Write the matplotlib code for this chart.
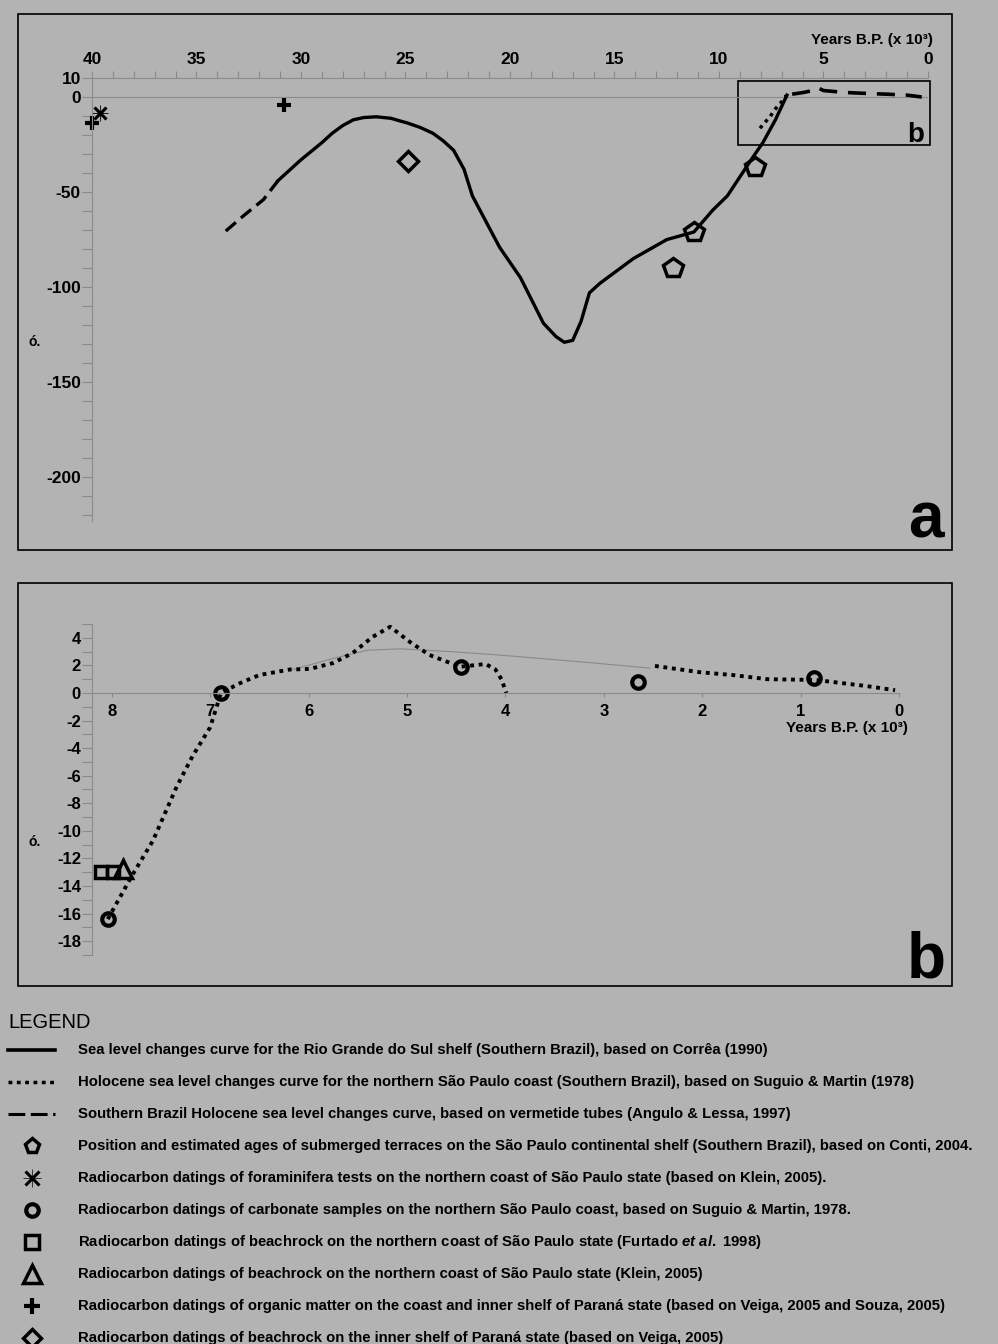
import matplotlib
matplotlib.use("Agg")
import matplotlib.pyplot as plt
from matplotlib.patches import Rectangle
from matplotlib.ticker import MultipleLocator, FixedLocator
import numpy as np

plt.rcParams['font.family'] = ['Liberation Sans', 'DejaVu Sans']
plt.rcParams['font.weight'] = 'bold'
plt.rcParams['axes.unicode_minus'] = False
plt.rcParams['mathtext.fontset'] = 'custom'
plt.rcParams['mathtext.rm'] = 'Liberation Sans:bold'
plt.rcParams['mathtext.it'] = 'Liberation Sans:italic:bold'

BG = '#b3b3b3'
AXC = '#8a8a8a'
W, H = 998, 1344

# ---- panel a : age (ka BP) and level (m) ----
correa_early_x = [33.6, 32.7, 31.8, 31.1]
correa_early_y = [-70.5, -62, -54, -44]
correa_x = [31.1, 30.0, 29.0, 28.5, 28.0, 27.5, 27.0, 26.4, 25.7, 24.9, 24.3, 23.7, 23.2, 22.7,
            22.2, 21.8, 20.5, 19.5, 18.4, 17.8, 17.4, 17.0, 16.6, 16.2, 15.7, 14.1, 12.5, 11.2,
            10.3, 9.6, 8.4, 7.9, 7.3, 6.75]
correa_y = [-44, -33, -24, -19, -15, -12, -10.8, -10.4, -11.2, -13.7, -16, -19, -23, -28,
            -38, -52, -79, -95, -119, -126, -129, -128, -118, -103, -98, -85, -75, -71,
            -59.5, -52, -32, -24, -12, 1]
angulo_x = [6.5, 6.0, 5.6, 5.3, 5.0, 4.0, 3.0, 2.0, 1.0, 0.3]
angulo_y = [1.5, 2.3, 3.2, 5.0, 3.4, 2.4, 1.9, 1.5, 1.0, 0.0]
conti_x = [8.3, 11.2, 12.2]
conti_y = [-37, -71, -90]
klein_foram_x = [39.6]
klein_foram_y = [-8.4]
veiga_om_x = [40.0, 30.8]
veiga_om_y = [-13.5, -4.2]
veiga_br_x = [24.9]
veiga_br_y = [-33.7]

# ---- panel b : Holocene detail ----
suguio1_x = [8.04, 7.79, 7.58, 7.34, 7.18, 7.0, 6.92, 6.89, 6.7, 6.5, 6.19, 5.99, 5.75,
             5.55, 5.35, 5.17, 4.97, 4.77, 4.46, 4.2, 4.1, 4.04, 3.99]
suguio1_y = [-16.4, -13.2, -10.7, -6.8, -4.6, -2.5, -0.7, 0.0, 0.7, 1.3, 1.7, 1.74, 2.17,
             2.9, 4.06, 4.8, 3.7, 2.75, 1.9, 2.1, 1.7, 1.0, 0.0]
suguio2_x = [2.48, 2.02, 1.69, 1.34, 0.84, 0.33, 0.04]
suguio2_y = [1.96, 1.5, 1.3, 1.0, 0.94, 0.5, 0.2]
thin_x = [6.16, 5.75, 5.4, 5.07, 4.56, 4.06, 3.14, 2.53]
thin_y = [1.7, 2.5, 3.1, 3.2, 3.0, 2.75, 2.2, 1.8]
carb_x = [8.04, 6.89, 4.45, 2.65, 0.86]
carb_y = [-16.4, 0.0, 1.9, 0.8, 1.1]
furtado_x = [8.11, 7.99]
furtado_y = [-13.0, -13.0]
klein_br_x = [7.88]
klein_br_y = [-12.8]

legend_labels = [
    "Sea level changes curve for the Rio Grande do Sul shelf (Southern Brazil), based on Corrêa (1990)",
    "Holocene sea level changes curve for the northern São Paulo coast (Southern Brazil), based on Suguio & Martin (1978)",
    "Southern Brazil Holocene sea level changes curve, based on vermetide tubes (Angulo & Lessa, 1997)",
    "Position and estimated ages of submerged terraces on the São Paulo continental shelf (Southern Brazil), based on Conti, 2004.",
    "Radiocarbon datings of foraminifera tests on the northern coast of São Paulo state (based on Klein, 2005).",
    "Radiocarbon datings of carbonate samples on the northern São Paulo coast, based on Suguio & Martin, 1978.",
    r"Radiocarbon datings of beachrock on the northern coast of São Paulo state (Furtado $et\ al.$ 1998)",
    "Radiocarbon datings of beachrock on the northern coast of São Paulo state (Klein, 2005)",
    "Radiocarbon datings of organic matter on the coast and inner shelf of Paraná state (based on Veiga, 2005 and Souza, 2005)",
    "Radiocarbon datings of beachrock on the inner shelf of Paraná state (based on Veiga, 2005)",
]


def frac(l, t, r, b):
    return [l / W, 1 - b / H, (r - l) / W, (b - t) / H]


fig = plt.figure(figsize=(9.98, 13.44), dpi=100, facecolor=BG)
bg = fig.add_axes([0, 0, 1, 1], zorder=0)
bg.set_xlim(0, W)
bg.set_ylim(H, 0)
bg.axis('off')
bg.add_patch(Rectangle((18, 14), 934, 536, fill=False, ec='black', lw=1.2))
bg.add_patch(Rectangle((18, 583), 934, 403, fill=False, ec='black', lw=1.2))

# markers style
pent = dict(marker='p', ms=15, mfc='none', mec='black', mew=2.5, ls='none', clip_on=False)
circ = dict(marker='o', ms=9, mfc='none', mec='black', mew=3, ls='none', clip_on=False)

# ================= panel a =================
ax = fig.add_axes(frac(92, 78, 928, 521), zorder=1)
ax.set_facecolor('none')
ax.set_xlim(40, 0)
ax.set_ylim(-223, 10)
for s in ['bottom', 'right']:
    ax.spines[s].set_visible(False)
for s in ['top', 'left']:
    ax.spines[s].set_color(AXC)
    ax.spines[s].set_linewidth(0.8)
ax.xaxis.tick_top()
ax.xaxis.set_major_locator(MultipleLocator(5))
ax.xaxis.set_minor_locator(MultipleLocator(1))
ax.yaxis.set_major_locator(FixedLocator([10, 0, -50, -100, -150, -200]))
ax.yaxis.set_minor_locator(MultipleLocator(10))
ax.tick_params(axis='x', which='both', direction='out', color=AXC, width=0.8, length=5,
               labelsize=12.5, pad=3)
ax.tick_params(axis='y', which='both', direction='out', color=AXC, width=0.8, length=7,
               labelsize=12.5, pad=1)
ax.axhline(0, color=AXC, lw=0.8)

ax.plot(correa_early_x, correa_early_y, color='black', lw=2.4, ls=(0, (4, 2)))
ax.plot(correa_x, correa_y, color='black', lw=2.4, solid_joinstyle='round')
ax.plot(suguio1_x[:9], suguio1_y[:9], color='black', lw=2.5, ls=(0, (1, 1.3)))
ax.plot(angulo_x, angulo_y, color='black', lw=2.6, ls=(0, (5, 3)))
ax.plot(conti_x, conti_y, **pent)
ax.plot(klein_foram_x, klein_foram_y, marker='x', ms=9, mew=2.2, color='black', ls='none', clip_on=False)
ax.plot(klein_foram_x, klein_foram_y, marker='+', ms=12, mew=0.6, color='black', ls='none', clip_on=False)
ax.plot(veiga_om_x, veiga_om_y, marker='+', ms=10, mew=3, color='black', ls='none', clip_on=False)
ax.plot(veiga_br_x, veiga_br_y, marker='D', ms=10, mfc='none', mec='black', mew=2.5, ls='none')
ax.add_patch(Rectangle((-0.1, -25.3), 9.2, 33.7, fill=False, ec='black', lw=1.2, clip_on=False))
ax.text(0.2, -23.5, 'b', ha='right', va='baseline', fontsize=20)

fig.text(933 / W, 1 - 40 / H, 'Years B.P. (x 10³)', ha='right', va='center', fontsize=11)
bg.text(944, 538, 'a', ha='right', va='baseline', fontsize=46)
bg.text(35, 342, 'ó.', ha='center', va='center', fontsize=10)

# ================= panel b =================
bx = fig.add_axes(frac(92, 624, 899, 955), zorder=1)
bx.set_facecolor('none')
bx.set_xlim(8.2, 0)
bx.set_ylim(-19, 5)
for s in ['top', 'right']:
    bx.spines[s].set_visible(False)
for s in ['bottom', 'left']:
    bx.spines[s].set_color(AXC)
    bx.spines[s].set_linewidth(0.8)
bx.spines['bottom'].set_position(('data', 0))
bx.xaxis.set_major_locator(FixedLocator(range(0, 9)))
bx.yaxis.set_major_locator(FixedLocator(range(-18, 5, 2)))
bx.yaxis.set_minor_locator(MultipleLocator(1))
bx.tick_params(axis='x', which='both', direction='out', color=AXC, width=0.8, length=3,
               labelsize=12, pad=5)
bx.tick_params(axis='y', which='both', direction='out', color=AXC, width=0.8, length=7,
               labelsize=12, pad=1)

bx.plot(thin_x, thin_y, color=AXC, lw=0.8)
bx.plot(suguio1_x, suguio1_y, color='black', lw=2.8, ls=(0, (1, 1.2)), clip_on=False)
bx.plot(suguio2_x, suguio2_y, color='black', lw=2.8, ls=(0, (1, 1.2)), clip_on=False)
bx.plot(carb_x, carb_y, **circ)
bx.plot(furtado_x, furtado_y, marker='s', ms=9, mfc='none', mec='black', mew=2.5, ls='none', clip_on=False)
bx.plot(klein_br_x, klein_br_y, marker='^', ms=13, mfc='none', mec='black', mew=2.5, ls='none', clip_on=False)

bg.text(908, 728, 'Years B.P. (x 10³)', ha='right', va='center', fontsize=11)
bg.text(946, 977, 'b', ha='right', va='baseline', fontsize=46)
bg.text(35, 842, 'ó.', ha='center', va='center', fontsize=10)

# ================= legend =================
bg.text(8, 1022, 'LEGEND', ha='left', va='center', fontsize=14.5, fontweight='normal')
rows = np.linspace(1050, 1338, len(legend_labels))
sym_x = 32
bg.plot([8, 55], [rows[0]] * 2, color='black', lw=2.6)
bg.plot([8, 55], [rows[1]] * 2, color='black', lw=2.5, ls=(0, (1.1, 1.3)))
bg.plot([8, 55], [rows[2]] * 2, color='black', lw=2.2, ls=(0, (5.5, 1.8)))
bg.plot([sym_x], [rows[3]], marker='p', ms=11, mfc='none', mec='black', mew=2.5)
bg.plot([sym_x], [rows[4]], marker='x', ms=10, mew=2.2, color='black')
bg.plot([sym_x], [rows[4]], marker='+', ms=13, mew=0.5, color='black')
bg.plot([sym_x], [rows[5]], marker='o', ms=9, mfc='none', mec='black', mew=3)
bg.plot([sym_x], [rows[6]], marker='s', ms=10, mfc='none', mec='black', mew=2.5)
bg.plot([sym_x], [rows[7]], marker='^', ms=13, mfc='none', mec='black', mew=2.5)
bg.plot([sym_x], [rows[8]], marker='+', ms=12, mew=3, color='black')
bg.plot([sym_x], [rows[9]], marker='D', ms=9, mfc='none', mec='black', mew=2.5)
for y, lab in zip(rows, legend_labels):
    bg.text(78, y, lab, ha='left', va='center', fontsize=10.7)

fig.savefig('out.png', dpi=100, facecolor=BG)
